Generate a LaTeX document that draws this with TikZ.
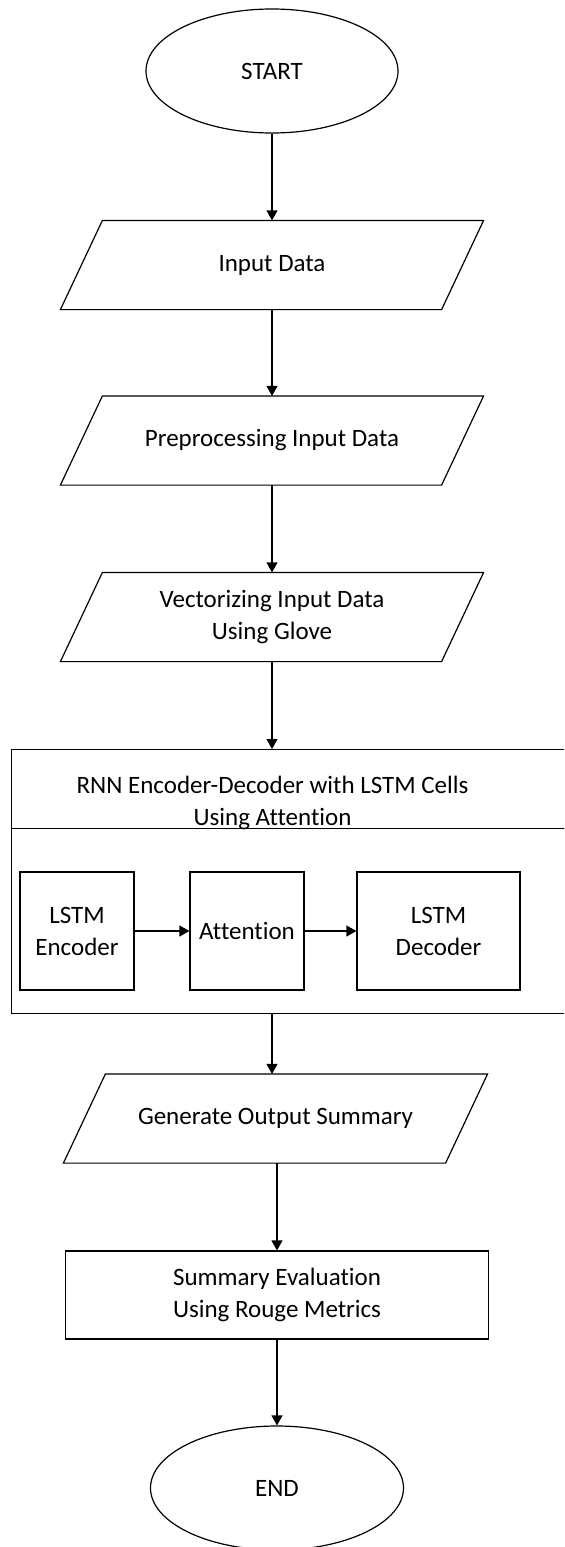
\documentclass[tikz,border=0pt]{standalone}
\usepackage{fontspec}
\setmainfont{Carlito}[Ligatures=NoCommon]
\usepackage{tikz}
\usetikzlibrary{arrows.meta,shapes.geometric,positioning,calc}

\begin{document}
\begin{tikzpicture}[x=0.5pt,y=-0.5pt,line width=0.6pt,
		every node/.style={font=\fontsize{12.5}{16}\selectfont, align=center},
		term/.style={draw, ellipse, minimum width=126pt, minimum height=62pt, inner sep=0pt},
		io/.style={minimum width=211pt, minimum height=44pt, inner sep=0pt},
		proc/.style={draw, minimum width=57pt, minimum height=59pt, inner sep=0pt},
		flow/.style={-{Triangle[length=5pt,width=5.5pt]}}]
		\useasboundingbox (0,0) rectangle (564,1547);
		\clip (0,0) rectangle (564,1547);

		\node[term] (start) at (272,71) {START};

		\node[io] (inp) at (272,265) {Input Data};
		\node[io] (prep) at (272,440.5) {Preprocessing Input Data};
		\node[io] (vec) at (272,617) {Vectorizing Input Data\\Using Glove};

		% encoder-decoder block (runs past the right edge)
		\node[draw, anchor=north west, minimum width=300pt, minimum height=39.5pt, inner sep=0pt] (rnnhead) at (11,749) {};
		\node[draw, anchor=north west, minimum width=300pt, minimum height=92.5pt, inner sep=0pt] (rnn) at (11,828) {};
		\node (rnntitle) at (272.5,803) {RNN Encoder-Decoder with LSTM Cells\\Using Attention};

		\node[proc] (enc) at (77,931) {LSTM\\Encoder};
		\node[proc] (att) at (247,931) {Attention};
		\node[proc, minimum width=81.5pt] (dec) at (438.5,931) {LSTM\\Decoder};

		\node[io, minimum width=211.5pt] (gen) at (275.5,1118.5) {Generate Output Summary};
		\node[draw, minimum width=211.5pt, minimum height=44pt, inner sep=0pt] (eval) at (277,1295) {Summary Evaluation\\Using Rouge Metrics};

		\node[term, minimum width=126.5pt] (end) at (277,1488) {END};

		% parallelograms
		\foreach \n in {inp,prep,vec,gen}
			\draw ([xshift=21pt]\n.north west) -- (\n.north east) -- ([xshift=-21pt]\n.south east) -- (\n.south west) -- cycle;

		\draw[flow] (start.south) -- (inp.north);
		\draw[flow] (inp.south) -- (prep.north);
		\draw[flow] (prep.south) -- (vec.north);
		\draw[flow] (vec.south) -- (vec.south |- rnnhead.north);
		\draw[flow] (enc) -- (att);
		\draw[flow] (att) -- (dec);
		\draw[flow] (vec.south |- rnn.south) -- (vec.south |- gen.north);
		\draw[flow] (eval.north |- gen.south) -- (eval.north);
		\draw[flow] (eval.south) -- (end.north);
	\end{tikzpicture}
\end{document}
